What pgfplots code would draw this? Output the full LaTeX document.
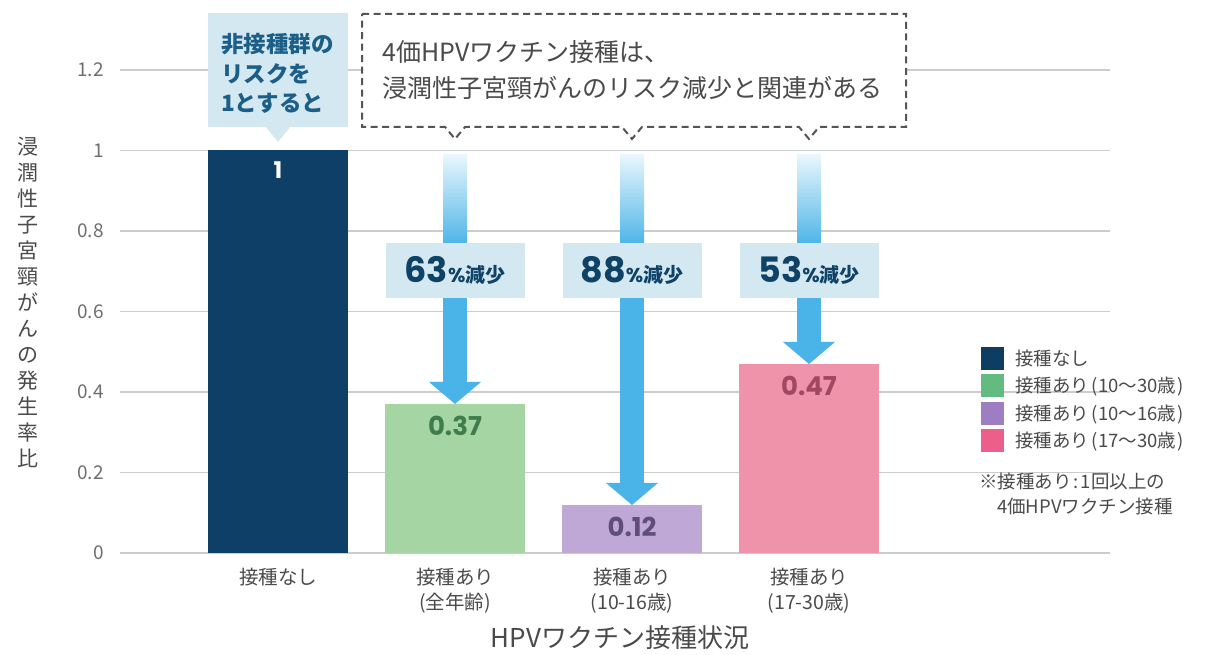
\documentclass[border=0pt]{standalone}
\usepackage{fontspec}
\setmainfont{Noto Sans CJK JP}
\newfontfamily\pop{Poppins}
\usepackage{pgfplots}
\pgfplotsset{compat=1.18}

\definecolor{cnavy}{HTML}{0E3F66}
\definecolor{cgreen}{HTML}{A5D5A3}
\definecolor{cpurple}{HTML}{BFA8D5}
\definecolor{cpink}{HTML}{EF93AA}
\definecolor{lnavy}{HTML}{0D3D63}
\definecolor{lgreen}{HTML}{62BC80}
\definecolor{lpurple}{HTML}{9E7EC2}
\definecolor{lpink}{HTML}{EC5F8B}
\definecolor{gridc}{HTML}{CCCCCC}
\definecolor{tickc}{HTML}{6E6E6E}
\definecolor{labc}{HTML}{4A4A4A}
\definecolor{arrowc}{HTML}{4AB4E8}
\definecolor{boxc}{HTML}{D4E8F2}
\definecolor{navytext}{HTML}{0E4266}
\definecolor{callc}{HTML}{1B5E87}
\definecolor{dashc}{HTML}{555555}
\definecolor{v2c}{HTML}{3F7D4E}
\definecolor{v3c}{HTML}{5F4D7A}
\definecolor{v4c}{HTML}{A04860}

\newcommand{\fs}[1]{\fontsize{#1}{#1}\selectfont}
\newcommand{\lp}{\hspace{2.5pt}(}
\newcommand{\rp}{\hspace{1pt})}

\begin{document}
\begin{tikzpicture}
\path[use as bounding box] (-120pt,-102pt) rectangle (1090pt,553pt);
\begin{axis}[
  scale only axis, width=990pt, height=483pt,
  xmin=-0.8927, xmax=4.7006, ymin=0, ymax=1.2,
  clip=false,
  axis line style={draw=none}, major tick style={draw=none},
  ymajorgrids=true, grid style={gridc, line width=1.6pt},
  ytick={0,0.2,0.4,0.6,0.8,1,1.2},
  /pgf/number format/assume math mode=true,
  yticklabel style={font=\fs{19}, text=tickc, inner sep=0pt, xshift=-16pt},
  xtick={0,1,2,3},
  xticklabels={接種なし,{接種あり\\(全年齢)},{接種あり\\(10-16歳)},{接種あり\\(17-30歳)}},
  xticklabel style={font=\fontsize{19.5}{25}\selectfont, text=labc, align=center, inner sep=0pt, yshift=-15pt},
  xlabel={HPVワクチン接種状況},
  xlabel style={at={(axis description cs:0.505,-0.176)}, anchor=center, font=\fs{26}, text=labc},
  ylabel={浸\\潤\\性\\子\\宮\\頸\\が\\ん\\の\\発\\生\\率\\比},
  ylabel style={rotate=-90, align=center, at={(axis description cs:-0.0929,0.5197)}, anchor=center, font=\fontsize{21}{26}\selectfont, text=labc},
  nodes near coords={\pgfmathprintnumber[fixed,precision=2]{\pgfplotspointmeta}},
  every node near coord/.append style={anchor=north, yshift=-12pt, inner sep=0pt, font=\pop\bfseries\fs{26}},
  legend style={draw=none, fill=none, at={(axis description cs:0.8697,0.4265)}, anchor=north west,
    inner sep=0pt, outer sep=0pt, row sep=5pt, font=\fs{18.5}, text=labc,
    nodes={inner sep=0pt}, /tikz/every odd column/.append style={column sep=12pt}},
  legend cell align=left,
]
\addplot[ybar, bar width=140pt, bar shift=0pt, fill=cnavy, draw=none, forget plot,
  every node near coord/.append style={text=white, font=\pop\bfseries\fs{23}, yshift=1pt}] coordinates {(0,1)};
\addplot[ybar, bar width=140pt, bar shift=0pt, fill=cgreen, draw=none, forget plot,
  every node near coord/.append style={text=v2c}] coordinates {(1,0.37)};
\addplot[ybar, bar width=140pt, bar shift=0pt, fill=cpurple, draw=none, forget plot,
  every node near coord/.append style={text=v3c}] coordinates {(2,0.12)};
\addplot[ybar, bar width=140pt, bar shift=0pt, fill=cpink, draw=none, forget plot,
  every node near coord/.append style={text=v4c}] coordinates {(3,0.47)};
\addlegendimage{legend image code/.code={\fill[lnavy] (0pt,-11pt) rectangle (22pt,11pt);}}
\addlegendentry{接種なし}
\addlegendimage{legend image code/.code={\fill[lgreen] (0pt,-11pt) rectangle (22pt,11pt);}}
\addlegendentry{接種あり\lp 10〜30歳\rp}
\addlegendimage{legend image code/.code={\fill[lpurple] (0pt,-11pt) rectangle (22pt,11pt);}}
\addlegendentry{接種あり\lp 10〜16歳\rp}
\addlegendimage{legend image code/.code={\fill[lpink] (0pt,-11pt) rectangle (22pt,11pt);}}
\addlegendentry{接種あり\lp 17〜30歳\rp}
\end{axis}

\begin{scope}[x=1pt,y=-1pt,shift={(-120pt,553pt)}]
% arrows
\foreach \cx/\ty in {455/404, 632/505, 809/364}{
  \shade[top color=arrowc!12, bottom color=arrowc] (\cx-12,155) rectangle (\cx+12,245);
  \fill[arrowc] (\cx-12,244) rectangle (\cx+12,\ty-21);
  \fill[arrowc] (\cx-26,\ty-22) -- (\cx,\ty) -- (\cx+26,\ty-22) -- cycle;
}
% reduction boxes
\foreach \cx/\p in {455/63, 632/88, 809/53}{
  \fill[boxc] (\cx-69.5,243) rectangle (\cx+69.5,298);
  \node[anchor=base, inner sep=0pt, text=navytext] at (\cx,283)
    {{\pop\bfseries\fs{35}\p}{\pop\bfseries\fs{20}\%}{\bfseries\fs{20}減少}};
}
% callout
\fill[boxc] (208,13) rectangle (348,127);
\fill[boxc] (265,126) -- (278,142) -- (291,126) -- cycle;
\node[anchor=base west, inner sep=0pt, text=callc, font=\bfseries\fs{22.5}] at (221,53) {非接種群の};
\node[anchor=base west, inner sep=0pt, text=callc, font=\bfseries\fs{22.5}] at (221,83) {リスクを};
\node[anchor=base west, inner sep=0pt, text=callc, font=\bfseries\fs{22.5}] at (221,112) {1とすると};
% dashed box
\draw[dashc, line width=2pt, dash pattern=on 7pt off 4.5pt, fill=white]
  (362,14) -- (906,14) -- (906,127) -- (819,127) -- (809,139) -- (799,127)
  -- (642,127) -- (632,139) -- (622,127) -- (465,127) -- (455,139) -- (445,127)
  -- (362,127) -- cycle;
\node[anchor=base west, inner sep=0pt, text=labc, font=\fs{25}] at (382,62) {4価HPVワクチン接種は、};
\node[anchor=base west, inner sep=0pt, text=labc, font=\fs{25}] at (382,98) {浸潤性子宮頸がんのリスク減少と関連がある};
% note
\node[anchor=base west, inner sep=0pt, text=labc, font=\fs{18.5}] at (979,489) {※接種あり\hspace{2pt}:\hspace{2pt}1回以上の};
\node[anchor=base west, inner sep=0pt, text=labc, font=\fs{18.5}] at (997,514) {4価HPVワクチン接種};
\end{scope}
\end{tikzpicture}
\end{document}
